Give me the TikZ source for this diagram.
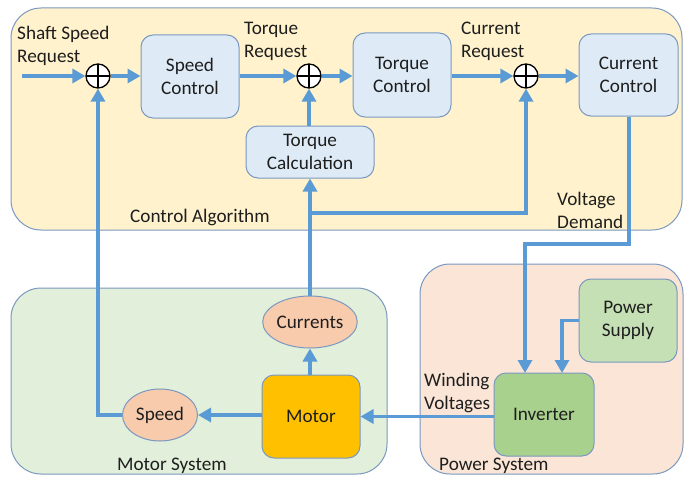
\documentclass[tikz,border=0pt]{standalone}
\usepackage{fontspec}
\setmainfont{Carlito}
\usetikzlibrary{arrows.meta,calc,shapes.geometric}
\definecolor{linec}{HTML}{5B9BD5}
\definecolor{bordc}{HTML}{7A98C0}
\definecolor{grpA}{HTML}{FFF2CC}
\definecolor{grpM}{HTML}{E2EFDA}
\definecolor{grpP}{HTML}{FBE5D6}
\definecolor{blk}{HTML}{DEEBF7}
\definecolor{motorc}{HTML}{FFC000}
\definecolor{invc}{HTML}{A9D18E}
\definecolor{psc}{HTML}{C5E0B4}
\definecolor{ellc}{HTML}{F8CBAD}
\definecolor{txt}{HTML}{1E1E1E}
\tikzset{
  grp/.style={draw=bordc,line width=1pt,rounded corners=30pt},
  blockbox/.style={draw=bordc,line width=1pt,rounded corners=12pt,align=center,text=txt,inner sep=0pt},
  ovalnode/.style={draw=bordc,line width=1pt,ellipse,fill=ellc,text=txt,inner sep=0pt,minimum width=75pt,minimum height=52pt},
  sumnode/.style={circle,draw=black,fill=white,line width=1.3pt,minimum size=24pt,inner sep=0pt,
    path picture={\draw[line width=1.3pt] (path picture bounding box.north) -- (path picture bounding box.south)
      (path picture bounding box.west) -- (path picture bounding box.east);}},
  arr/.style={draw=linec,line width=3.8pt,-{Triangle[length=13pt,width=14pt]}},
  lbl/.style={anchor=west,align=left,inner sep=0pt,text=txt}
}
\begin{document}
\begin{tikzpicture}[x=1pt,y=-1pt,font=\fontsize{19.2}{23}\selectfont]
\useasboundingbox (0,0) rectangle (684,476);
% group boxes
\path[grp,fill=grpA] (11,8) rectangle (682,230);
\path[grp,fill=grpM] (11,288) rectangle (387,474);
\path[grp,fill=grpP] (420,264) rectangle (683,474);
% nodes
\node[sumnode] (s1) at (98,76) {};
\node[sumnode] (s2) at (309,76) {};
\node[sumnode] (s3) at (526,76) {};
\node[blockbox,fill=blk,minimum width=98pt,minimum height=83pt] (sc) at (190,76.5) {Speed\\Control};
\node[blockbox,fill=blk,minimum width=128pt,minimum height=52pt] (tcal) at (310,152) {Torque\\Calculation};
\node[blockbox,fill=blk,minimum width=98pt,minimum height=84pt] (tco) at (402,75) {Torque\\Control};
\node[blockbox,fill=blk,minimum width=99pt,minimum height=82pt] (cc) at (628.5,75) {Current\\Control};
\node[ovalnode] (cur) at (310,322) {Currents};
\node[ovalnode] (spd) at (160,415) {Speed};
\node[blockbox,fill=motorc,minimum width=98pt,minimum height=83pt] (mot) at (311,416.5) {Motor};
\node[blockbox,fill=invc,minimum width=100pt,minimum height=83pt] (inv) at (544,414.5) {Inverter};
\node[blockbox,fill=psc,minimum width=98pt,minimum height=83pt] (ps) at (628,320.5) {Power\\Supply};
% labels
\node[lbl] (l1) at (17,46) {Shaft Speed\\Request};
\node[lbl] (l2) at (244,41) {Torque\\Request};
\node[lbl] (l3) at (461,41) {Current\\Request};
\node[lbl] (l4) at (557,210) {Voltage\\Demand};
\node[lbl] (l5) at (424,392.5) {Winding\\Voltages};
\node[lbl] (l6) at (130,217) {Control Algorithm};
\node[lbl] (l7) at (117,466) {Motor System};
\node[lbl] (l8) at (439,466) {Power System};
% coordinates
\coordinate (inp) at (22,76);
\coordinate (br) at (310,213);
\coordinate (vd) at (629,244);
\coordinate (inA) at (525,373);
\coordinate (inB) at (562,373);
% connectors
\draw[arr] (inp) -- (s1.west);
\draw[arr] (s1.east) -- (sc.west |- s1.east);
\draw[arr] (sc.east |- s2.west) -- (s2.west);
\draw[arr] (s2.east) -- (tco.west |- s2.east);
\draw[arr] (tco.east |- s3.west) -- (s3.west);
\draw[arr] (s3.east) -- (cc.west |- s3.east);
\draw[arr] (tcal.north -| s2.south) -- (s2.south);
\draw[arr] (cur.north) -- (tcal.south -| cur.north);
\draw[arr] (br) -| (s3.south);
\draw[arr] (cc.south -| vd) -- (vd) -| (inA);
\draw[arr] (ps.west) -| (inB);
\draw[arr] (inv.west |- mot.east) -- (mot.east);
\draw[arr] (mot.north -| cur.south) -- (cur.south);
\draw[arr] (mot.west |- spd.east) -- (spd.east);
\draw[arr] (spd.west) -| (s1.south);
\end{tikzpicture}
\end{document}
